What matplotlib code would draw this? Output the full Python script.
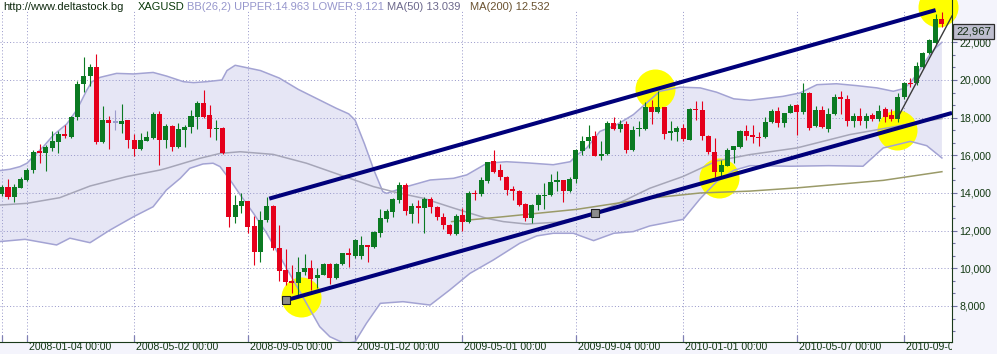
import numpy as np
import pandas as pd
import matplotlib
matplotlib.use("Agg")
import matplotlib.pyplot as plt
from matplotlib import transforms
from matplotlib.ticker import FixedLocator, FuncFormatter

plt.rcParams["font.family"] = ["Liberation Sans", "DejaVu Sans"]

# XAGUSD weekly candles, first week 2007-12-07
opens = [
    13.95, 14.34, 13.80, 14.28, 14.69, 15.22, 16.23, 16.14, 16.39, 16.70,
    17.13, 16.99, 18.02, 19.77, 20.20, 20.67, 16.73, 17.88, 17.74, 17.68,
    17.86, 16.81, 16.34, 16.78, 16.90, 18.19, 16.81, 17.58, 16.42, 17.35,
    17.48, 18.02, 18.80, 18.14, 17.38, 17.43, 15.36, 12.74, 13.33, 13.58,
    12.25, 10.88, 12.57, 13.31, 11.10, 9.91, 9.33, 9.20, 9.79, 10.00,
    9.47, 9.65, 10.23, 9.47, 10.21, 10.80, 10.65, 10.65, 11.24, 11.15,
    11.89, 12.60, 13.00, 13.63, 14.42, 12.88, 13.31, 13.19, 13.70, 13.27,
    12.74, 12.30, 11.82, 12.83, 12.48, 14.02, 13.95, 14.64, 15.72, 15.22,
    14.83, 14.23, 14.12, 13.43, 12.67, 13.38, 13.82, 13.91, 14.57, 14.71,
    14.12, 14.76, 16.21, 16.74, 17.00, 15.98, 16.09, 17.72, 17.42, 17.68,
    16.27, 17.38, 17.42, 18.55, 18.28, 18.55, 17.19, 17.22, 17.45, 16.83,
    18.48, 18.42, 17.04, 16.19, 15.10, 15.45, 16.27, 16.42, 17.31, 17.08,
    16.99, 16.96, 17.79, 18.35, 17.70, 18.23, 18.65, 18.32, 19.33, 17.56,
    18.41, 17.38, 18.20, 19.12, 18.99, 17.84, 18.09, 17.84, 18.14, 17.91,
    18.48, 18.14, 17.93, 19.08, 19.86, 19.82, 20.71, 21.42, 21.98, 23.24,
]
highs = [
    14.45, 14.73, 14.50, 14.87, 15.30, 16.30, 16.60, 16.53, 17.30, 17.27,
    17.59, 18.09, 19.96, 21.24, 20.85, 21.38, 18.64, 18.09, 18.40, 18.73,
    17.86, 17.13, 17.16, 17.31, 18.30, 18.35, 17.66, 17.61, 17.70, 17.61,
    18.40, 18.90, 19.47, 18.67, 17.86, 17.49, 15.40, 13.90, 13.98, 13.60,
    12.80, 13.05, 13.80, 13.36, 12.30, 11.00, 10.16, 10.60, 10.74, 10.44,
    10.00, 10.27, 10.27, 10.27, 10.83, 11.06, 11.54, 11.72, 11.24, 12.00,
    13.13, 13.13, 13.72, 14.60, 14.55, 13.45, 13.63, 13.77, 13.80, 13.31,
    12.92, 12.35, 12.88, 13.19, 14.11, 14.16, 14.83, 15.66, 16.28, 15.54,
    14.88, 14.35, 14.14, 13.47, 13.43, 13.95, 14.55, 15.00, 15.19, 14.71,
    14.85, 16.34, 17.00, 17.63, 17.27, 16.78, 17.84, 18.04, 17.89, 17.80,
    17.54, 17.80, 18.83, 18.92, 19.43, 18.55, 17.80, 17.54, 17.68, 18.51,
    18.90, 18.87, 17.10, 16.92, 15.77, 16.39, 16.51, 17.36, 17.63, 17.63,
    17.26, 18.02, 18.44, 18.55, 18.27, 18.73, 18.75, 19.86, 19.38, 18.62,
    18.62, 18.50, 19.26, 19.40, 19.20, 18.23, 18.50, 18.23, 18.23, 18.65,
    18.55, 18.44, 19.32, 19.91, 20.12, 20.97, 21.50, 22.16, 23.50, 23.63,
]
lows = [
    13.85, 13.66, 13.54, 14.25, 14.64, 15.08, 15.60, 15.19, 16.25, 16.14,
    16.90, 16.92, 17.88, 19.38, 19.70, 16.62, 16.64, 16.32, 17.35, 17.20,
    16.41, 15.98, 16.28, 16.78, 16.87, 15.49, 16.41, 16.23, 16.37, 16.42,
    17.17, 17.38, 17.96, 16.99, 16.81, 16.07, 12.20, 12.40, 12.96, 11.90,
    10.18, 10.35, 12.48, 10.97, 9.35, 9.12, 8.67, 8.58, 9.65, 8.85,
    8.94, 9.65, 9.17, 9.42, 10.18, 10.09, 10.53, 10.48, 10.35, 11.06,
    11.65, 12.48, 12.74, 13.49, 12.83, 12.42, 12.42, 11.89, 12.92, 12.57,
    12.07, 11.77, 11.77, 11.98, 12.43, 13.63, 13.84, 14.55, 15.04, 14.70,
    13.91, 13.65, 13.29, 12.50, 12.40, 13.12, 13.15, 13.82, 14.09, 13.50,
    14.04, 14.53, 16.04, 16.39, 15.95, 15.77, 16.04, 17.33, 17.22, 16.12,
    16.21, 17.00, 17.33, 17.68, 18.25, 16.88, 16.83, 16.74, 16.74, 16.80,
    17.89, 16.83, 16.09, 14.85, 14.80, 15.42, 15.60, 16.39, 16.83, 16.65,
    16.51, 16.90, 17.73, 17.52, 17.52, 18.23, 17.08, 18.20, 17.35, 17.49,
    17.43, 17.26, 18.14, 18.21, 17.56, 17.52, 17.61, 17.43, 17.84, 17.84,
    17.79, 17.84, 17.75, 18.97, 19.61, 19.73, 20.62, 21.36, 21.90, 22.83,
]
closes = [
    14.34, 13.80, 14.34, 14.73, 15.22, 16.20, 16.14, 16.46, 16.78, 17.15,
    17.03, 18.02, 19.79, 20.21, 20.67, 16.73, 17.88, 17.70, 17.74, 17.82,
    16.81, 16.35, 16.81, 16.99, 18.19, 16.81, 17.54, 16.42, 17.40, 17.49,
    18.09, 18.80, 18.02, 17.38, 17.43, 16.10, 12.74, 13.36, 13.58, 12.21,
    10.88, 12.57, 13.31, 11.06, 9.86, 9.29, 9.20, 9.79, 10.00, 9.42,
    9.65, 10.23, 9.47, 10.23, 10.80, 10.71, 11.50, 11.24, 11.15, 11.95,
    12.65, 13.06, 13.66, 14.42, 13.06, 13.31, 13.19, 13.66, 13.27, 12.74,
    12.30, 11.82, 12.80, 12.45, 13.98, 13.95, 14.69, 15.63, 15.13, 14.83,
    14.18, 14.12, 13.38, 12.67, 13.38, 13.91, 13.91, 14.60, 14.71, 14.12,
    14.76, 16.27, 16.78, 16.97, 15.98, 16.09, 17.72, 17.42, 17.68, 16.27,
    17.36, 17.43, 18.55, 18.28, 18.55, 17.15, 17.27, 17.45, 16.88, 18.48,
    18.39, 17.00, 16.16, 15.10, 15.49, 16.30, 16.48, 17.31, 17.04, 16.96,
    16.90, 17.79, 18.35, 17.70, 18.23, 18.62, 18.32, 19.29, 17.43, 18.41,
    17.52, 18.20, 19.12, 18.97, 17.84, 18.09, 17.84, 18.09, 17.91, 18.37,
    18.05, 17.93, 19.08, 19.82, 19.79, 20.74, 21.42, 22.12, 23.24, 22.967,
]
dates = pd.date_range("2007-12-07", periods=len(opens), freq="7D")

date_labels = ["2008-01-04", "2008-05-02", "2008-09-05", "2009-01-02", "2009-05-01",
               "2009-09-04", "2010-01-01", "2010-05-07", "2010-09-03"]
price_ticks = [8, 10, 12, 14, 16, 18, 20, 22]

# Bollinger band (26,2) at candle positions
bb_up_x = [-0.3, 1.3, 2.9, 4.0, 5.0, 6.6, 8.2, 10.3, 11.9, 13.5, 14.3, 15.6, 18.2, 20.9,
           24.0, 26.1, 28.8, 30.4, 32.5, 34.9, 35.7, 37.0, 39.3, 41, 44, 47, 50, 53, 55,
           56, 57.5, 59, 60.4, 61, 64.2, 67.9, 71.6, 73.7, 76.9, 80, 83.2, 87.4, 90.1,
           91.1, 92.7, 94.8, 97.5, 100.1, 102.2, 104.3, 107.5, 110.7, 113.3, 116, 118.6,
           123.8, 126.5, 129.2, 132.3, 135.5, 138.7, 141.3, 143, 144, 145, 146, 147, 148, 149]
bb_up = [15.19, 15.26, 15.40, 15.58, 15.93, 16.46, 17.08, 17.66, 18.41, 19.47, 19.91, 20.14,
         20.35, 20.32, 20.40, 20.21, 19.91, 19.86, 19.91, 20.00, 20.50, 20.78, 20.62, 20.5,
         20.1, 19.5, 19.0, 18.5, 18.2, 17.87, 16.6, 15.2, 14.07, 13.98, 14.34, 14.69, 14.78,
         14.96, 15.58, 15.66, 15.60, 15.50, 15.66, 16.0, 16.39, 17.27, 17.63, 18.16, 18.78,
         19.40, 19.62, 19.58, 19.35, 19.00, 18.92, 19.13, 19.31, 19.75, 19.80, 19.70, 19.58,
         19.40, 19.55, 19.85, 20.3, 20.8, 21.3, 21.7, 22.0]
bb_lo_x = [-0.3, 3.7, 8.7, 10.8, 14.0, 17.2, 20.9, 24.0, 26.1, 28.3, 29.8, 31.9, 33.5, 34.6,
           36.2, 37.8, 39.9, 42.0, 44.1, 46.2, 48.3, 50.4, 52.0, 54.4, 56.0, 57.8, 60.0, 63.6,
           67.9, 71.0, 74.2, 77.9, 82.1, 84.8, 87.4, 90.6, 93.8, 97.0, 100.1, 102.7, 105, 108,
           110.7, 113.3, 116, 118.6, 125, 131, 136.5, 139.7, 144, 146.6, 149]
bb_lo = [11.42, 11.54, 11.24, 11.60, 11.36, 12.04, 12.74, 13.27, 14.16, 14.78, 15.31, 15.54,
         15.58, 15.40, 14.69, 13.90, 12.92, 11.86, 10.62, 9.38, 8.14, 6.90, 6.37, 6.0, 6.1,
         7.08, 8.14, 8.23, 8.05, 8.85, 9.73, 10.44, 11.33, 11.72, 11.86, 11.86, 11.47, 11.86,
         11.95, 12.25, 12.4, 12.6, 13.7, 14.6, 15.2, 15.45, 15.42, 15.45, 15.42, 16.39, 16.74,
         16.51, 15.86]

ma50_x = [-0.3, 4, 9.2, 14, 19.8, 25.1, 26.1, 31.4, 34.6, 37.8, 43, 48.3, 53.6, 58.9, 62.6,
          66.8, 71.6, 76.9, 79.5, 83.2, 88, 92, 96, 99, 102.7, 108, 113.3, 118.6, 126, 134.4,
          141.8, 145, 149]
ma50 = [13.36, 13.45, 13.75, 14.37, 14.87, 15.22, 15.31, 15.84, 16.10, 16.19, 16.05, 15.58,
        14.96, 14.34, 14.02, 13.72, 13.20, 12.65, 12.48, 12.35, 12.45, 12.75, 13.20, 13.65,
        14.25, 14.88, 15.70, 16.04, 16.39, 17.10, 17.54, 17.75, 17.95]
ma200_x = [71.3, 79.5, 91.1, 102.7, 110.7, 118.6, 126, 139.7, 149]
ma200 = [12.48, 12.74, 13.13, 13.72, 14.00, 14.10, 14.27, 14.67, 15.13]

# hand-drawn channel, trend line and highlights (candle index, price)
upper_line_x, upper_line_y = [42.4, 148.0], [13.70, 23.71]
lower_line_x, lower_line_y = [45.0, 150.6], [8.30, 18.25]
anchor_x, anchor_y = [45.0, 94.0], [8.30, 12.92]
steep_x, steep_y = [142.0, 150.6], [18.0, 23.4]
circle_x = [47.5, 103.5, 113.7, 141.9, 148.4]
circle_y = [8.49, 19.52, 14.78, 17.34, 23.86]

W, H = 997, 354
fig = plt.figure(figsize=(W / 100, H / 100), dpi=100, facecolor="#F4F4FC")
ax = fig.add_axes([0, 12.3 / H, 952 / W, 341.7 / H])
ax.set_facecolor("white")
ax.set_xlim(-0.27, 150.6)
ax.set_ylim(6.104, 24.246)

x = np.arange(len(opens))
o, h, l, c = map(np.array, (opens, highs, lows, closes))

grid_kw = dict(color="#9A9ACB", ls=(0, (1, 2.2)), lw=0.72, zorder=1.5)
tick_pos = [dates.get_loc(pd.Timestamp(d)) for d in date_labels]
for p in price_ticks:
    ax.axhline(p, **grid_kw)
for t in [0] + tick_pos:
    ax.axvline(t, ymax=0.97, **grid_kw)

# bollinger band
ax.fill(np.r_[bb_up_x, bb_lo_x[::-1]], np.r_[bb_up, bb_lo[::-1]], color="#E6E6F5", lw=0, zorder=1)
ax.scatter(circle_x, circle_y, s=830, c="#FFFF00", lw=0, zorder=2, clip_on=False)
ax.plot(bb_up_x, bb_up, color="#A3A3D3", lw=1.1, zorder=3)
ax.plot(bb_lo_x, bb_lo, color="#A3A3D3", lw=1.1, zorder=3)
ax.plot(ma50_x, ma50, color="#A6A6B8", lw=1.1, zorder=3)
ax.plot(ma200_x, ma200, color="#9A9A68", lw=1.1, zorder=3)

# candles
col = np.where(c > o, "#0B7A22", np.where(c < o, "#E5001B", "#9C9CCC"))
ax.vlines(x, l, h, colors=col, lw=0.8, zorder=4)
ax.bar(x, np.maximum(np.abs(c - o), 0.06), width=0.8, bottom=np.minimum(o, c),
       color=col, lw=0, zorder=5)

# channel
ax.plot(upper_line_x, upper_line_y, color="#00007A", lw=2.9, solid_capstyle="butt", zorder=6)
ax.plot(lower_line_x, lower_line_y, color="#00007A", lw=2.9, solid_capstyle="butt", zorder=6)
ax.plot(steep_x, steep_y, color="#3A3A3A", lw=1.0, zorder=6)
ax.scatter(anchor_x, anchor_y, marker="s", s=26, facecolor="#8C8C8C", edgecolor="#202020",
           lw=0.8, zorder=7)

# axes look
for s in ["left", "top"]:
    ax.spines[s].set_visible(False)
for s in ["right", "bottom"]:
    ax.spines[s].set_color("#1A3A1A")
ax.yaxis.tick_right()
ax.set_yticks(price_ticks)
ax.yaxis.set_minor_locator(FixedLocator(np.arange(6 + 2 / 3, 24.1, 2 / 3)))
ax.yaxis.set_major_formatter(FuncFormatter(lambda v, p: f"{v:.3f}".replace(".", ",")))
ax.tick_params(axis="y", which="major", direction="out", length=3.8, width=0.8,
               color="#7272A6", labelsize=7.6, labelcolor="#123812", pad=1.5)
ax.tick_params(axis="y", which="minor", direction="out", length=2.4, width=0.8, color="#7272A6")
ax.set_xticks([0] + tick_pos)
ax.set_xticklabels([])
ax.tick_params(axis="x", direction="in", length=5, width=0.9, color="#8080B4")

lab_tf = transforms.blended_transform_factory(ax.transData, fig.transFigure) + \
    transforms.ScaledTranslation(2 / 100, 0, fig.dpi_scale_trans)
clip = transforms.TransformedBbox(transforms.Bbox([[0, 0], [952 / W, 1]]), fig.transFigure)
for pos, lab in zip(tick_pos, date_labels):
    t = fig.text(pos, 1 - 347.5 / H, lab + " 00:00", transform=lab_tf, ha="left", va="center",
                 fontsize=7.6, color="#123812")
    t.set_clip_box(clip)
    t.set_clip_on(True)

# header
title_parts = [(3, "http://www.deltastock.bg", "#0F2A0F"), (138, "XAGUSD", "#0A3A0A"),
               (186.7, "BB(26,2) UPPER:14.963 LOWER:9.121", "#9696CC"),
               (386.7, "MA(50) 13.039", "#6C688C"), (470, "MA(200) 12.532", "#6A5230")]
for px, txt, colr in title_parts:
    fig.text(px / W, 1 - 6.5 / H, txt, ha="left", va="center", fontsize=8, color=colr)

# last price box
box_tf = transforms.blended_transform_factory(ax.transAxes, ax.transData) + \
    transforms.ScaledTranslation(4 / 100, -2.5 / 100, fig.dpi_scale_trans)
last_price = closes[-1]
ax.text(1.0, last_price, f"{last_price:.3f}".replace(".", ","), transform=box_tf, ha="left",
        va="top", fontsize=8.2, color="#102810", clip_on=False, zorder=10,
        bbox=dict(boxstyle="square,pad=0.22", fc="#BDBDCE", ec="#2C2C2C", lw=0.9))

fig.savefig("out.png", dpi=100, facecolor=fig.get_facecolor())
